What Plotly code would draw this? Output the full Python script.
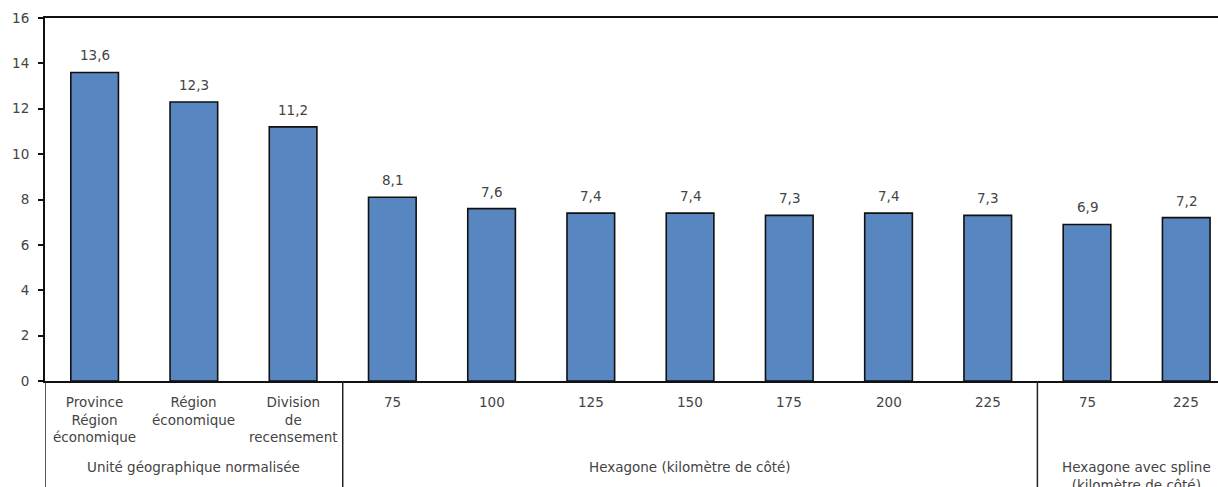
import plotly.graph_objects as go

# Category labels (multi-line) and their group headings
categories = [
    "Province<br>Région<br>économique",
    "Région<br>économique",
    "Division<br>de<br>recensement",
    "75", "100", "125", "150", "175", "200", "225",
    "75", "225",
]
values = [13.6, 12.3, 11.2, 8.1, 7.6, 7.4, 7.4, 7.3, 7.4, 7.3, 6.9, 7.2]
groups = [
    ("Unité géographique normalisée", 0, 2),
    ("Hexagone (kilomètre de côté)", 3, 9),
    ("Hexagone avec spline<br>(kilomètre de côté)", 10, 11),
]
y_ticks = [0, 2, 4, 6, 8, 10, 12, 14, 16]

FONT = "DejaVu Sans"
SIZE = 13.5
TEXT = "#444444"
BAR = "#5886C0"

x = list(range(len(values)))

fig = go.Figure()
fig.add_trace(go.Bar(
    x=x, y=values, width=0.48,
    marker=dict(color=BAR, line=dict(color="#111111", width=1.6)),
    hoverinfo="skip",
))

annotations = []
# value labels above bars
for xi, v in zip(x, values):
    annotations.append(dict(
        x=xi, y=v, xref="x", yref="y", text=f"{v:.1f}".replace(".", ","),
        showarrow=False, yanchor="bottom", yshift=7,
        font=dict(family=FONT, size=SIZE, color=TEXT),
    ))
# category labels
for xi, c in zip(x, categories):
    annotations.append(dict(
        x=xi, y=0, xref="x", yref="paper", text=c, showarrow=False,
        yanchor="top", yshift=-11, align="center",
        font=dict(family=FONT, size=SIZE, color=TEXT),
    ))
# group labels
for name, a, b in groups:
    annotations.append(dict(
        x=(a + b) / 2, y=0, xref="x", yref="paper", text=name, showarrow=False,
        yanchor="top", yshift=-76, align="center",
        font=dict(family=FONT, size=SIZE, color=TEXT),
    ))

shapes = []
# separators between groups, plus the left axis extension
for sx in [-0.5, 2.5, 9.5]:
    shapes.append(dict(
        type="line", xref="x", yref="paper", x0=sx, x1=sx, y0=0, y1=-0.4,
        line=dict(color="#222222", width=1.5),
    ))

fig.update_layout(
    width=1218, height=487,
    margin=dict(l=45, r=0, t=18, b=106),
    paper_bgcolor="white", plot_bgcolor="white",
    showlegend=False,
    annotations=annotations, shapes=shapes,
    xaxis=dict(
        range=[-0.5, 11.32], showticklabels=False, ticks="",
        showline=True, linecolor="#111111", linewidth=2, mirror=True,
        showgrid=False, zeroline=False, fixedrange=True,
    ),
    yaxis=dict(
        range=[0, 16], tickvals=y_ticks, ticks="outside", ticklen=5,
        tickcolor="#111111", tickwidth=1.5,
        showline=True, linecolor="#111111", linewidth=2,
        showgrid=False, zeroline=False,
        tickfont=dict(family=FONT, size=SIZE, color=TEXT),
        ticklabelstandoff=6,
    ),
)

fig.write_html("out.html")
